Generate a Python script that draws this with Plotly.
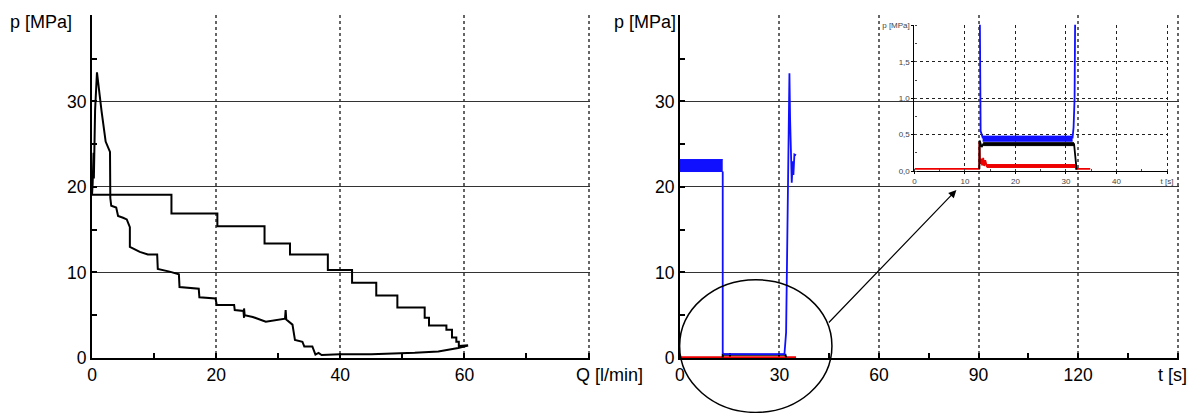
import plotly.graph_objects as go

# ---------------- data ----------------
# Left chart: p-Q loop (upper staircase, then spike and lower curve)
upper_Q = [0, 12.8, 12.8, 20.2, 20.2, 27.8, 27.8, 31.9, 31.9, 38.0, 38.0, 41.9, 41.9, 45.8, 45.8,
           49.2, 49.2, 53.6, 53.6, 54.3, 54.3, 57.1, 57.1, 58.0, 58.0, 58.7, 58.7, 59.1, 59.1, 60.6]
upper_p = [19.1, 19.1, 16.9, 16.9, 15.4, 15.4, 13.4, 13.4, 12.1, 12.1, 10.3, 10.3, 8.8, 8.8, 7.3,
           7.3, 5.9, 5.9, 4.7, 4.7, 3.8, 3.8, 3.3, 3.3, 2.4, 2.4, 1.9, 1.9, 1.4, 1.5]
lower_Q = [0.1, 0.15, 0.2, 0.25, 0.3, 0.35, 0.5, 0.8, 1.0, 1.55, 2.2, 2.9, 2.95, 3.1, 3.9, 4.2, 5.0,
           5.6, 6.1, 6.1, 7.7, 9.0, 10.5, 10.6, 12.5, 14.0, 14.1, 17.2, 17.3, 19.9, 20.1, 22.9,
           23.0, 24.4, 24.5, 24.5, 24.6, 25.9, 28.0, 31.1, 31.2, 31.3, 32.3, 32.7, 33.9, 34.2,
           35.5, 36.0, 36.5, 37.0, 40.0, 45.0, 49.4, 52.0, 55.8, 59.0, 60.6]
lower_p = [20.3, 23.5, 20.5, 24.0, 21.0, 25.0, 29.0, 33.4, 32.0, 28.8, 25.3, 24.1, 18.7, 17.8, 17.6,
           16.6, 16.4, 16.2, 15.3, 13.0, 12.4, 12.1, 12.1, 10.4, 10.1, 9.8, 8.3, 8.1, 7.1, 6.95,
           6.2, 6.2, 5.6, 5.5, 4.7, 5.8, 5.0, 4.8, 4.25, 4.6, 5.6, 4.5, 3.9, 2.1, 1.9, 1.35, 1.35,
           0.4, 0.6, 0.35, 0.45, 0.45, 0.5, 0.6, 0.77, 1.16, 1.46]

# Right chart: p(t)
blue_band_t = [0, 12.9]
blue_band_hi = [23.2, 23.2]
blue_band_lo = [21.8, 21.8]
blue_t = [12.9, 12.9, 13.2, 20.0, 31.5, 32.0, 32.5, 33.0, 33.2, 33.5, 33.7, 34.0, 34.2, 34.5, 35.0]
blue_p = [21.8, 0.6, 0.45, 0.45, 0.45, 3.0, 20.0, 33.3, 28.0, 24.1, 20.5, 23.0, 21.4, 23.8, 23.7]
black_t = [12.9, 12.9, 31.8, 32.0]
black_p = [0.05, 0.4, 0.37, 0.05]
red_t = [0, 35]
red_p = [0.05, 0.05]

# Inset (zoom of low pressures)
ins_blue_t = [12.9, 12.95, 13.1, 13.5, 31.3, 31.5, 31.7, 31.85]
ins_blue_p = [2.5, 0.72, 0.55, 0.46, 0.46, 0.6, 1.0, 2.5]
ins_blue_band_t = [13.5, 31.3]
ins_blue_band_lo = [0.41, 0.41]
ins_blue_band_hi = [0.48, 0.48]
ins_black_t = [12.85, 12.9, 13.3, 13.6, 31.6, 31.95, 32.1]
ins_black_p = [0.03, 0.42, 0.33, 0.37, 0.37, 0.18, 0.02]
ins_black_band_t = [13.6, 31.6]
ins_black_band_lo = [0.35, 0.35]
ins_black_band_hi = [0.39, 0.39]
ins_red_t = [0, 12.8, 12.85, 13.0, 13.2, 13.4, 13.6, 13.8, 14.0, 14.3, 31.9, 32.0, 34.8]
ins_red_p = [0.03, 0.03, 0.4, 0.1, 0.17, 0.08, 0.18, 0.07, 0.15, 0.07, 0.07, 0.03, 0.03]
ins_red_band_t = [14.3, 31.9]
ins_red_band_lo = [0.05, 0.05]
ins_red_band_hi = [0.09, 0.09]

left_xticks = [0, 20, 40, 60, 80]
left_xlabels = ['0', '20', '40', '60', '']
left_yticks = [0, 10, 20, 30, 40]
left_ylabels = ['0', '10', '20', '30', '']
right_xticks = [0, 30, 60, 90, 120, 150]
right_xlabels = ['0', '30', '60', '90', '120', '']
ins_xticks = [0, 10, 20, 30, 40, 50]
ins_xlabels = ['0', '10', '20', '30', '40', 't [s]']
ins_yticks = [0, 0.5, 1.0, 1.5, 2.0]
ins_ylabels = ['0,0', '0,5', '1,0', '1,5', 'p [MPa]']

# ---------------- layout helpers ----------------
W, H = 1196, 413
ML, MR, MT, MB = 92, 15, 13, 55
PW, PH = W - ML - MR, H - MT - MB


def fx(p):
    return (p - ML) / PW


def fy(p):
    return (H - MB - p) / PH


FONT = "Arial, 'Liberation Sans', sans-serif"
BLUE = '#1010ff'

fig = go.Figure()

# left loop
loop_Q = upper_Q[::-1] + lower_Q
loop_p = upper_p[::-1] + lower_p
fig.add_trace(go.Scatter(x=loop_Q, y=loop_p, mode='lines', line=dict(color='black', width=2),
                         xaxis='x', yaxis='y', showlegend=False))

# right chart
fig.add_trace(go.Scatter(x=red_t, y=red_p, mode='lines', line=dict(color='#ee0000', width=2.5),
                         xaxis='x2', yaxis='y2', showlegend=False))
fig.add_trace(go.Scatter(x=black_t, y=black_p, mode='lines', line=dict(color='black', width=2),
                         xaxis='x2', yaxis='y2', showlegend=False))
fig.add_trace(go.Scatter(x=blue_band_t, y=blue_band_lo, mode='lines', line=dict(color=BLUE, width=1),
                         xaxis='x2', yaxis='y2', showlegend=False))
fig.add_trace(go.Scatter(x=blue_band_t, y=blue_band_hi, mode='lines', line=dict(color=BLUE, width=1),
                         fill='tonexty', fillcolor=BLUE, xaxis='x2', yaxis='y2', showlegend=False))
fig.add_trace(go.Scatter(x=blue_t, y=blue_p, mode='lines', line=dict(color=BLUE, width=1.8),
                         xaxis='x2', yaxis='y2', showlegend=False))


# inset
def add_band(t, lo, hi, color):
    fig.add_trace(go.Scatter(x=t, y=lo, mode='lines', line=dict(color=color, width=1),
                             xaxis='x3', yaxis='y3', showlegend=False))
    fig.add_trace(go.Scatter(x=t, y=hi, mode='lines', line=dict(color=color, width=1),
                             fill='tonexty', fillcolor=color, xaxis='x3', yaxis='y3', showlegend=False))


add_band(ins_red_band_t, ins_red_band_lo, ins_red_band_hi, '#ee0000')
fig.add_trace(go.Scatter(x=ins_red_t, y=ins_red_p, mode='lines', line=dict(color='#ee0000', width=1.8),
                         xaxis='x3', yaxis='y3', showlegend=False))
add_band(ins_black_band_t, ins_black_band_lo, ins_black_band_hi, 'black')
fig.add_trace(go.Scatter(x=ins_black_t, y=ins_black_p, mode='lines', line=dict(color='black', width=1.8),
                         xaxis='x3', yaxis='y3', showlegend=False))
add_band(ins_blue_band_t, ins_blue_band_lo, ins_blue_band_hi, BLUE)
fig.add_trace(go.Scatter(x=ins_blue_t, y=ins_blue_p, mode='lines', line=dict(color=BLUE, width=1.8),
                         xaxis='x3', yaxis='y3', showlegend=False))

main_tick = dict(family=FONT, size=17.5, color='black')
common_x = dict(showgrid=True, gridcolor='#666', gridwidth=1.5, griddash='dot', showline=True,
                linecolor='black', linewidth=2, ticks='inside', ticklen=5, tickwidth=1.5,
                tickcolor='black', zeroline=False, tickfont=main_tick, layer='below traces')
common_y = dict(showgrid=True, gridcolor='#333', gridwidth=1, showline=True, linecolor='black',
                linewidth=2, ticks='inside', ticklen=5, tickwidth=1.5, tickcolor='black',
                zeroline=False, tickfont=main_tick, layer='below traces', range=[0, 40.1],
                tickmode='array', tickvals=left_yticks, ticktext=left_ylabels,
                minor=dict(ticks='inside', ticklen=5, tickwidth=1.5, tickcolor='black',
                           tickvals=[5, 15, 25, 35], showgrid=False))

ins_font = dict(family=FONT, size=8, color='#444')
fig.update_layout(
    width=W, height=H, margin=dict(l=ML, r=MR, t=MT, b=MB),
    paper_bgcolor='white', plot_bgcolor='rgba(0,0,0,0)', showlegend=False,
    xaxis=dict(domain=[0, fx(591)], range=[0, 80.25], anchor='y', tickmode='array',
               tickvals=left_xticks, ticktext=left_xlabels,
               minor=dict(ticks='inside', ticklen=5, tickwidth=1.5, tickcolor='black',
                          tickvals=[10, 30, 50, 70], showgrid=False), **common_x),
    yaxis=dict(domain=[0, 1], anchor='x', **common_y),
    xaxis2=dict(domain=[fx(681), 1], range=[0, 150.4], anchor='y2', tickmode='array',
                tickvals=right_xticks, ticktext=right_xlabels,
                minor=dict(ticks='inside', ticklen=5, tickwidth=1.5, tickcolor='black',
                           tickvals=[15, 45, 75, 105, 135], showgrid=False), **common_x),
    yaxis2=dict(domain=[0, 1], anchor='x2', **common_y),
    xaxis3=dict(domain=[fx(916), fx(1170)], range=[0, 50.2], anchor='y3', tickmode='array',
                tickvals=ins_xticks, ticktext=ins_xlabels, showgrid=True, gridcolor='#222',
                gridwidth=1, griddash='dot', showline=True, linecolor='black', linewidth=1.2,
                ticks='outside', ticklen=2, tickcolor='black', zeroline=False, tickfont=ins_font,
                minor=dict(ticks='inside', ticklen=2, tickcolor='#444', dtick=5, showgrid=False)),
    yaxis3=dict(domain=[fy(170), fy(22.7)], range=[0, 2.01], anchor='x3', tickmode='array',
                tickvals=ins_yticks, ticktext=ins_ylabels, showgrid=True, gridcolor='#222',
                gridwidth=1, griddash='dot', showline=True, linecolor='black', linewidth=1.2,
                ticks='outside', ticklen=2, tickcolor='black', zeroline=False, tickfont=ins_font,
                minor=dict(ticks='inside', ticklen=2, tickcolor='#444', dtick=0.25, showgrid=False)),
)

lab = dict(family=FONT, size=18, color='black')
annots = [
    dict(text='p [MPa]', x=fx(41), y=fy(20), xanchor='center', yanchor='middle'),
    dict(text='p [MPa]', x=fx(646), y=fy(20), xanchor='center', yanchor='middle'),
    dict(text='Q [l/min]', x=fx(610), y=fy(375), xanchor='center', yanchor='middle'),
    dict(text='t [s]', x=fx(1174), y=fy(375), xanchor='center', yanchor='middle'),
]
for a in annots:
    fig.add_annotation(xref='paper', yref='paper', showarrow=False, font=lab, **a)

fig.add_annotation(xref='paper', yref='paper', x=fx(958), y=fy(189), ax=829 - 958, ay=323 - 189,
                   text='', showarrow=True, arrowhead=2, arrowsize=1.3, arrowwidth=1.2,
                   arrowcolor='black')
fig.add_shape(type='circle', xref='paper', yref='paper', x0=fx(680.7), x1=fx(833.3),
              y0=fy(412.7), y1=fy(279.3), line=dict(color='black', width=1.5))

fig.write_html('out.html')
